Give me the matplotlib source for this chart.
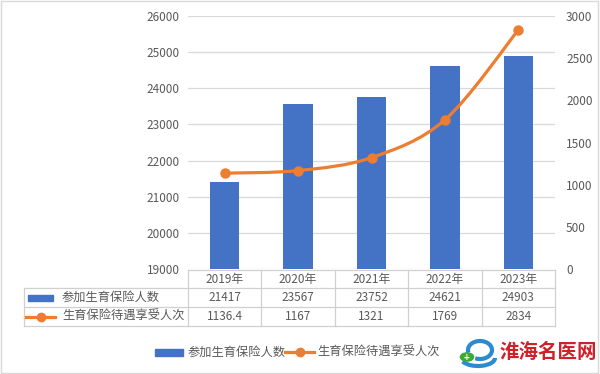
import matplotlib
matplotlib.use("Agg")
import matplotlib.pyplot as plt
from matplotlib.path import Path
from matplotlib.patches import PathPatch, Rectangle, Circle, Arc
from matplotlib.lines import Line2D
import numpy as np

plt.rcParams['font.family'] = ['Noto Sans CJK SC', 'DejaVu Sans']

# data
years = ["2019年", "2020年", "2021年", "2022年", "2023年"]
insured = [21417, 23567, 23752, 24621, 24903]
benefits = [1136.4, 1167, 1321, 1769, 2834]
insured_lbl = ["21417", "23567", "23752", "24621", "24903"]
benefits_lbl = ["1136.4", "1167", "1321", "1769", "2834"]
name_bar = "参加生育保险人数"
name_line = "生育保险待遇享受人次"

blue = "#4472C4"
orange = "#ED7D31"
txt = "#595959"
gridc = "#D9D9D9"

W, H = 600, 374
fig = plt.figure(figsize=(W / 100, H / 100), dpi=100)

def fx(px):
    return px / W

def fy(py):
    return 1 - py / H

# plot area in pixels
L, R, T, B = 188, 555, 16, 269
ax = fig.add_axes([fx(L), fy(B), fx(R) - fx(L), fy(T) - fy(B)])
ax2 = ax.twinx()

x = np.arange(len(years))
ax.bar(x, insured, width=0.4, color=blue, bottom=0, zorder=2)
ax.set_xlim(-0.5, len(years) - 0.5)
ax.set_ylim(19000, 26000)
ax.set_yticks(range(19000, 26001, 1000))
ax.yaxis.grid(True, color=gridc, lw=0.9, zorder=0)
ax.set_axisbelow(True)
ax.set_xticks([])

ax2.set_ylim(0, 3000)
ax2.set_yticks(range(0, 3001, 500))

for a in (ax, ax2):
    for s in a.spines.values():
        s.set_visible(False)
    a.tick_params(axis='y', length=0, labelsize=8.5, labelcolor=txt, pad=8)
ax.tick_params(axis='y', pad=6)

# smooth line (Catmull-Rom style bezier through the points)
pts = np.column_stack([x, benefits]).astype(float)
ext = np.vstack([pts[0], pts, pts[-1]])
verts = [tuple(pts[0])]
codes = [Path.MOVETO]
for i in range(len(pts) - 1):
    p0, p1, p2, p3 = ext[i], ext[i + 1], ext[i + 2], ext[i + 3]
    c1 = p1 + (p2 - p0) / 6
    c2 = p2 - (p3 - p1) / 6
    verts += [tuple(c1), tuple(c2), tuple(p2)]
    codes += [Path.CURVE4] * 3
ax2.add_patch(PathPatch(Path(verts, codes), fill=False, ec=orange, lw=2.3,
                        zorder=3, capstyle='round'))
ax2.plot(x, benefits, 'o', color=orange, ms=6.5, zorder=4)

# data table
ty = [270, 288, 307, 326]
tl = 24
colw = (R - L) / len(years)
lc = "#D0D0D0"

def hline(y, x0, x1):
    fig.add_artist(Line2D([fx(x0), fx(x1)], [fy(y), fy(y)], color=lc, lw=0.9))

def vline(xp, y0, y1):
    fig.add_artist(Line2D([fx(xp), fx(xp)], [fy(y0), fy(y1)], color=lc, lw=0.9))

hline(ty[0], L, R)
for yy in ty[1:]:
    hline(yy, tl, R)
vline(tl, ty[1], ty[3])
for i in range(len(years) + 1):
    vline(L + i * colw, ty[0], ty[3])

for i in range(len(years)):
    cx = fx(L + (i + 0.5) * colw)
    fig.text(cx, fy((ty[0] + ty[1]) / 2), years[i], ha='center', va='center',
             fontsize=8.5, color=txt)
    fig.text(cx, fy((ty[1] + ty[2]) / 2), insured_lbl[i], ha='center', va='center',
             fontsize=8.5, color=txt)
    fig.text(cx, fy((ty[2] + ty[3]) / 2), benefits_lbl[i], ha='center', va='center',
             fontsize=8.5, color=txt)

# row headers with legend keys
r1 = (ty[1] + ty[2]) / 2
r2 = (ty[2] + ty[3]) / 2
fig.add_artist(Rectangle((fx(28), fy(r1 + 3)), fx(53) - fx(28), fy(r1 - 3) - fy(r1 + 3),
                         color=blue, transform=fig.transFigure))
fig.text(fx(62), fy(r1), name_bar, ha='left', va='center', fontsize=8.8, color=txt)
fig.add_artist(Line2D([fx(26), fx(55)], [fy(r2), fy(r2)], color=orange, lw=2.3))
fig.add_artist(Line2D([fx(40.5)], [fy(r2)], color=orange, marker='o', ms=6))
fig.text(fx(62), fy(r2), name_line, ha='left', va='center', fontsize=8.8, color=txt)

# bottom legend
ly = 352
fig.add_artist(Rectangle((fx(155), fy(ly + 3.5)), fx(183) - fx(155), fy(ly - 3.5) - fy(ly + 3.5),
                         color=blue, transform=fig.transFigure))
fig.text(fx(187), fy(ly), name_bar, ha='left', va='center', fontsize=8.8, color=txt)
fig.add_artist(Line2D([fx(285), fx(314)], [fy(ly), fy(ly)], color=orange, lw=2.3))
fig.add_artist(Line2D([fx(299.5)], [fy(ly)], color=orange, marker='o', ms=6))
fig.text(fx(317), fy(ly), name_line, ha='left', va='center', fontsize=8.8, color=txt)

# watermark
fig.add_artist(Arc((fx(480), fy(350)), fx(24) - fx(0), fy(0) - fy(18), theta1=-110, theta2=200,
                   color="#2B8BD0", lw=3, transform=fig.transFigure))
fig.add_artist(Arc((fx(478), fy(358)), fx(34) - fx(0), fy(0) - fy(16), theta1=200, theta2=360,
                   color="#2B8BD0", lw=3, transform=fig.transFigure))
fig.add_artist(Circle((fx(467), fy(357)), 0.011, color="#3AAA35", transform=fig.transFigure))
fig.text(fx(467), fy(357.5), "+", ha='center', va='center', fontsize=7, color='white',
         fontweight='bold')
fig.text(fx(548), fy(352), "淮海名医网", ha='center', va='center', fontsize=14,
         color="#D0202A", fontweight='bold', style='italic')

# outer frame
fig.add_artist(Rectangle((0.002, 0.003), 0.995, 0.994, fill=False, ec="#D9D9D9", lw=1,
                         transform=fig.transFigure))

fig.savefig("out.png", dpi=100, facecolor='white')
